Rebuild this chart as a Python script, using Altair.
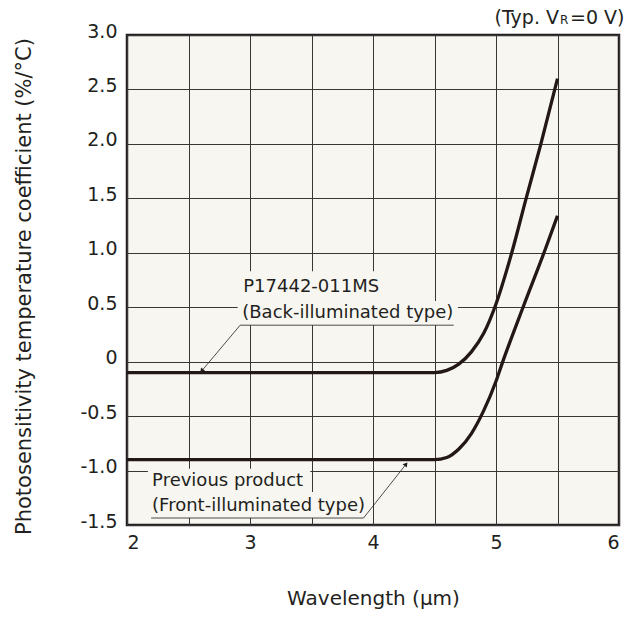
import altair as alt
import pandas as pd

# ---- data ----
back_x = [2.0, 4.5, 4.6, 4.7, 4.8, 4.9, 5.0, 5.128, 5.245, 5.365, 5.5]
back_y = [-0.1, -0.1, -0.08, -0.02, 0.09, 0.26, 0.53, 1.0, 1.5, 2.0, 2.6]
front_x = [2.0, 4.5, 4.6, 4.7, 4.8, 4.9, 5.0, 5.055, 5.22, 5.40, 5.5]
front_y = [-0.9, -0.9, -0.88, -0.80, -0.66, -0.45, -0.18, 0.0, 0.5, 1.03, 1.34]

x_grid = [2, 2.5, 3, 3.5, 4, 4.5, 5, 5.5, 6]
y_grid = [-1.5, -1.0, -0.5, 0, 0.5, 1.0, 1.5, 2.0, 2.5, 3.0]

FONT = "DejaVu Sans"
INK = "#231f20"
BG = "#f7f6f1"

curves = pd.concat([
    pd.DataFrame({"x": back_x, "y": back_y, "s": "back"}),
    pd.DataFrame({"x": front_x, "y": front_y, "s": "front"}),
])

xs = alt.Scale(domain=[2, 6], nice=False, zero=False)
ys = alt.Scale(domain=[-1.5, 3.0], nice=False, zero=False)

x_axis = alt.Axis(
    values=x_grid, grid=True, gridColor="#3a3636", gridWidth=1,
    labelExpr="datum.value % 1 == 0 ? format(datum.value, 'd') : ''",
    ticks=False, domain=False, labelPadding=8, labelFontSize=19, labelFont=FONT,
    labelColor=INK, title="Wavelength (µm)", titleFont=FONT, titleFontSize=20,
    titleFontWeight="normal", titleColor=INK, titleY=73, titleBaseline="middle",
)
y_axis = alt.Axis(
    values=y_grid, grid=True, gridColor="#3a3636", gridWidth=1,
    labelExpr="datum.value == 0 ? '0' : (datum.value < 0 ? '-' + format(-datum.value, '.1f') : format(datum.value, '.1f'))",
    ticks=False, domain=False, labelPadding=10, labelFontSize=19, labelFont=FONT,
    labelColor=INK, labelOffset=-4,
    title="Photosensitivity temperature coefficient (%/°C)",
    titleFont=FONT, titleFontSize=21, titleFontWeight="normal", titleColor=INK,
    titleX=-114, titleY=251, titleAngle=-90, titleBaseline="top", titleAnchor="middle",
)

base = alt.Chart(curves).encode(
    x=alt.X("x:Q", scale=xs, axis=x_axis),
    y=alt.Y("y:Q", scale=ys, axis=y_axis),
)
lines = base.mark_line(interpolate="monotone", strokeWidth=3.3, color="#231815").encode(
    detail="s:N"
)

# ---- annotations (data coordinates) ----
bg_rects = pd.DataFrame({
    "x": [2.90, 2.90, 2.17, 2.17],
    "x2": [4.10, 4.69, 3.49, 3.95],
    "y": [0.83, 0.556, -0.984, -1.196],
    "y2": [0.556, 0.335, -1.196, -1.436],
})
rects = alt.Chart(bg_rects).mark_rect(color=BG).encode(
    x=alt.X("x:Q", scale=xs), x2="x2", y=alt.Y("y:Q", scale=ys), y2="y2"
)

labels = pd.DataFrame({
    "x": [2.945, 2.937, 2.204, 2.204],
    "y": [0.69, 0.45, -1.094, -1.325],
    "t": ["P17442-011MS", "(Back-illuminated type)", "Previous product", "(Front-illuminated type)"],
})
texts = alt.Chart(labels).mark_text(
    align="left", baseline="middle", font=FONT, fontSize=18, color=INK
).encode(x=alt.X("x:Q", scale=xs), y=alt.Y("y:Q", scale=ys), text="t:N")

segs = pd.DataFrame({
    "x": [2.92, 2.92, 2.196, 3.923],
    "x2": [4.656, 2.611, 3.923, 4.265],
    "y": [0.335, 0.335, -1.436, -1.436],
    "y2": [0.335, -0.08, -1.436, -0.947],
})
rules = alt.Chart(segs).mark_rule(color=INK, strokeWidth=0.8).encode(
    x=alt.X("x:Q", scale=xs), x2="x2", y=alt.Y("y:Q", scale=ys), y2="y2"
)

heads = pd.DataFrame({"x": [2.611, 4.265], "y": [-0.08, -0.947], "a": [220, 38]})
arrowheads = alt.Chart(heads).mark_point(
    shape="triangle", filled=True, color=INK, size=28, opacity=1
).encode(x=alt.X("x:Q", scale=xs), y=alt.Y("y:Q", scale=ys), angle=alt.Angle("a:Q", scale=None))

# ---- condition note top right ----
note_df = pd.DataFrame({"k": [0]})
note1 = alt.Chart(note_df).mark_text(
    align="right", baseline="alphabetic", font=FONT, fontSize=19, color=INK
).encode(x=alt.value(432), y=alt.value(-11), text=alt.value("(Typ. V"))
note2 = alt.Chart(note_df).mark_text(
    align="left", baseline="alphabetic", font=FONT, fontSize=12, color=INK
).encode(x=alt.value(433), y=alt.value(-11), text=alt.value("R"))
note3 = alt.Chart(note_df).mark_text(
    align="left", baseline="alphabetic", font=FONT, fontSize=19, color=INK
).encode(x=alt.value(443), y=alt.value(-11), text=alt.value("=0 V)"))

chart = alt.layer(rects, rules, arrowheads, texts, lines, note1, note2, note3).properties(
    width=492, height=490,
    padding={"left": 127, "top": 35, "right": 19, "bottom": 101},
    autosize=alt.AutoSizeParams(type="none"),
    background="white",
).configure_view(
    fill=BG, stroke=INK, strokeWidth=2.5
)

chart.save("out.html", embed_options={"renderer": "svg", "actions": False})
